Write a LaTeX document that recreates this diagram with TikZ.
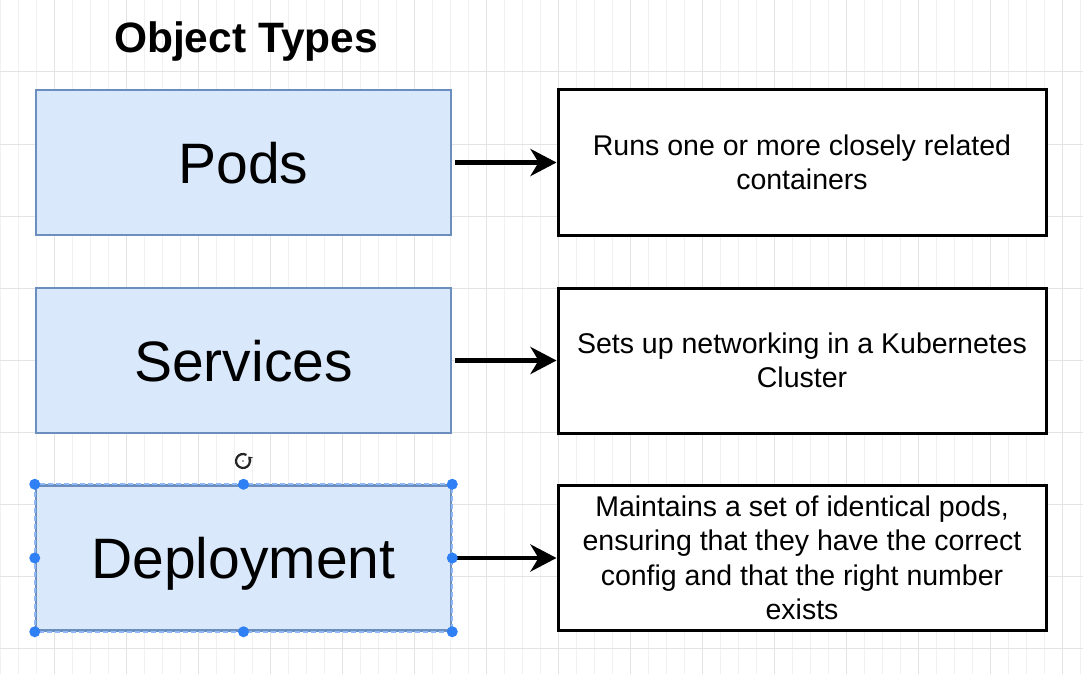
\documentclass[tikz,border=0pt]{standalone}
\usepackage{fontspec}
\setmainfont{Liberation Sans}
\usepackage{tikz}
\usetikzlibrary{arrows.meta, positioning}

\definecolor{boxfill}{HTML}{DAE8FC}
\definecolor{boxline}{HTML}{6C8EBF}
\definecolor{selblue}{HTML}{2F7FF5}
\definecolor{gridminor}{HTML}{F1F1F1}
\definecolor{gridmajor}{HTML}{E3E3E3}

\begin{document}
\begin{tikzpicture}[x=1pt, y=-1pt,
    objbox/.style={draw=boxline, fill=boxfill, line width=2.5pt,
        minimum width=415pt, minimum height=145pt, inner sep=0pt,
        text height=41pt, text depth=0pt,
        font=\fontsize{57}{68}\selectfont},
    infobox/.style={draw=black, line width=3pt, fill=white,
        minimum width=488pt, minimum height=145pt, inner sep=0pt,
        align=center, font=\fontsize{28.5}{34.5}\selectfont},
    arr/.style={line width=4.5pt, shorten <=3pt,
        -{Stealth[length=26pt, width=27pt, inset=8pt]}},
    handle/.style={fill=selblue}]
    \def\W{1083}
    \def\H{674}

    \useasboundingbox (0,0) rectangle (\W,\H);
    \fill[white] (0,0) rectangle (\W,\H);

    % grid
    \draw[gridminor, line width=0.8pt] (0,0) grid[step=18] (\W,\H);
    \foreach \x in {54,126,...,1083}
        \draw[gridmajor, line width=1pt] (\x,0) -- (\x,\H);
    \foreach \y in {72,144,...,674}
        \draw[gridmajor, line width=1pt] (0,\y) -- (\W,\y);

    \node[anchor=base, font=\bfseries\fontsize{42.5}{50}\selectfont] (title) at (246,53) {Object Types};

    \node[objbox] (pods) at (243.5,162.5) {Pods};
    \node[objbox] (services) at (243.5,360.5) {Services};
    \node[objbox] (deploy) at (243.5,558) {Deployment};

    \node[infobox] (podsinfo) at (802,162.5) {Runs one or more closely related\\containers};
    \node[infobox] (servicesinfo) at (802,360.5) {Sets up networking in a Kubernetes\\Cluster};
    \node[infobox] (deployinfo) at (802,558) {Maintains a set of identical pods,\\ensuring that they have the correct\\config and that the right number\\exists};

    \draw[arr] (pods) -- (podsinfo);
    \draw[arr] (services) -- (servicesinfo);
    \draw[arr] (deploy) -- (deployinfo);

    % selection of the deployment box
    \draw[selblue!55, line width=1.6pt, dash pattern=on 5pt off 3pt]
        (deploy.north west) rectangle (deploy.south east);
    \foreach \a in {north west, north, north east, east, south east, south, south west, west}
        \fill[handle] (deploy.\a) circle (5.5);

    % rotate handle
    \coordinate (rot) at (243,461);
    \draw[black!85, line width=2.2pt, -{Stealth[length=4pt, width=6pt]}]
        ([shift={(-60:7)}]rot) arc[start angle=-60, end angle=-400, radius=7];
    \fill[black!70] (rot) circle (0.9);
\end{tikzpicture}
\end{document}
